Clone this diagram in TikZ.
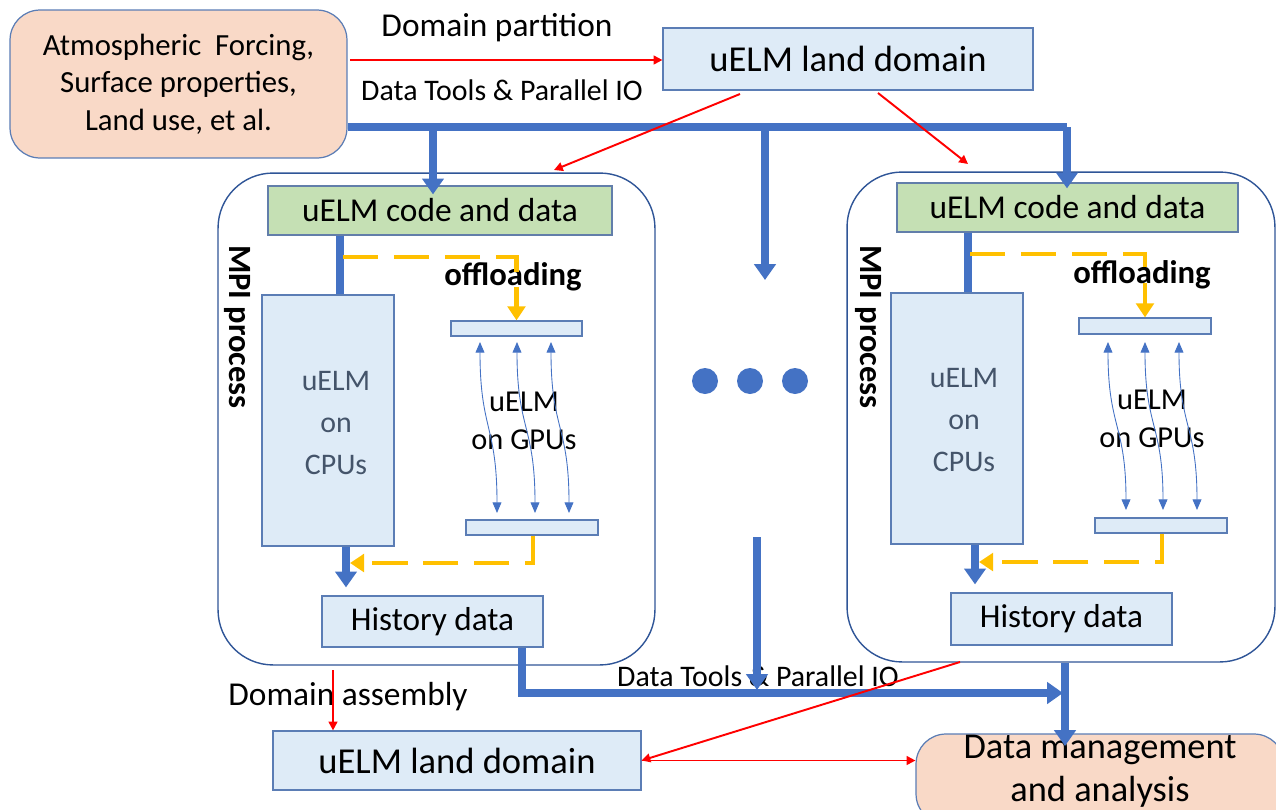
\documentclass[tikz,border=0pt]{standalone}
\usepackage{fontspec}
\setmainfont{Carlito}
\usetikzlibrary{arrows.meta}
\definecolor{tblue}{HTML}{4472C4}
\definecolor{bborder}{HTML}{5B7DB5}
\definecolor{lblue}{HTML}{DEEBF7}
\definecolor{lgreen}{HTML}{C5E0B4}
\definecolor{peach}{HTML}{F9D9C7}
\definecolor{mpiborder}{HTML}{2F5597}
\definecolor{gold}{HTML}{FFC000}
\definecolor{cputext}{HTML}{44546A}
\begin{document}
\begin{tikzpicture}[x=0.02cm,y=-0.02cm,
  lbox/.style={draw=bborder,fill=lblue,line width=0.7pt,inner sep=0pt},
  gbox/.style={draw=bborder!80!gray,fill=lgreen,line width=0.7pt,inner sep=0pt},
  pbox/.style={draw=bborder,fill=peach,line width=0.7pt,rounded corners=0.6cm,inner sep=0pt},
  mpibox/.style={draw=mpiborder,line width=0.8pt,rounded corners=1.1cm,inner sep=0pt},
  thick blue/.style={draw=tblue,line width=4pt},
  thickarrow/.style={draw=tblue,line width=4pt,-{Triangle[width=12pt,length=9pt]}},
  redarrow/.style={draw=red,line width=1.1pt,-{Triangle[width=5pt,length=5pt]}},
  goldarrow/.style={draw=gold,line width=2.3pt,dash pattern=on 20pt off 9pt,-{Triangle[width=10pt,length=8pt]}},
  thinarrow/.style={draw=tblue,line width=0.5pt,{Triangle[width=5pt,length=6pt]}-{Triangle[width=5pt,length=6pt]}},
  dot/.style={circle,fill=tblue,minimum size=0.52cm,inner sep=0pt}
]
\useasboundingbox (0,0) rectangle (1276,809);
\clip (0,0) rectangle (1276,809);

% input and top land domain
\node[pbox,minimum width=6.74cm,minimum height=2.96cm,align=center,
  font=\fontsize{17.5}{21.3}\selectfont] (inp) at (178.5,84)
  {Atmospheric\ \ Forcing,\\Surface properties,\\Land use, et al.};
\node[lbox,minimum width=7.4cm,minimum height=1.24cm,font=\fontsize{20.8}{25}\selectfont]
  (land) at (848,59) {uELM land domain};
\node[font=\fontsize{19}{23}\selectfont] (dp) at (497,28) {Domain partition};
\node[font=\fontsize{17}{20}\selectfont] (dt1) at (502,90) {Data Tools \& Parallel IO};

% MPI boxes
\node[mpibox,minimum width=8.74cm,minimum height=9.84cm] (mpiL) at (436.5,419) {};
\node[mpibox,minimum width=8.56cm,minimum height=9.8cm] (mpiR) at (1061,417) {};

% code boxes
\node[gbox,minimum width=6.88cm,minimum height=0.98cm,font=\fontsize{19}{23}\selectfont]
  (codeL) at (440,210.5) {uELM code and data};
\node[gbox,minimum width=6.82cm,minimum height=0.98cm,font=\fontsize{19}{23}\selectfont]
  (codeR) at (1067.5,207.5) {uELM code and data};

% MPI process labels
\node[rotate=-90,font=\bfseries\fontsize{18.5}{22}\selectfont] (mpL) at (237,327) {MPI process};
\node[rotate=-90,font=\bfseries\fontsize{18.5}{22}\selectfont] (mpR) at (868,327) {MPI process};

% CPU boxes
\node[lbox,minimum width=2.64cm,minimum height=5.02cm] (cpuL) at (328,420.5) {};
\node[lbox,minimum width=2.64cm,minimum height=5.02cm] (cpuR) at (957,418.5) {};
\node[text=cputext,align=center,font=\fontsize{17}{24}\selectfont] (cpuLt) at (336,423) {uELM\\on\\CPUs};
\node[text=cputext,align=center,font=\fontsize{17}{24}\selectfont] (cpuRt) at (964,420) {uELM\\on\\CPUs};

% GPU bars
\node[lbox,minimum width=2.62cm,minimum height=0.3cm] (gtL) at (516.5,328.5) {};
\node[lbox,minimum width=2.64cm,minimum height=0.3cm] (gbL) at (532,527.5) {};
\node[lbox,minimum width=2.64cm,minimum height=0.32cm] (gtR) at (1145,326) {};
\node[lbox,minimum width=2.64cm,minimum height=0.3cm] (gbR) at (1161,525.5) {};
\node[align=center,font=\fontsize{17.3}{21.5}\selectfont] (gpuLt) at (524,421) {uELM\\on GPUs};
\node[align=center,font=\fontsize{17.3}{21.5}\selectfont] (gpuRt) at (1152,419) {uELM\\on GPUs};
\node[font=\bfseries\fontsize{18.6}{22}\selectfont] (offL) at (513,277) {offloading};
\node[font=\bfseries\fontsize{18.6}{22}\selectfont] (offR) at (1142,275) {offloading};

% history boxes
\node[lbox,minimum width=4.42cm,minimum height=1.02cm,font=\fontsize{18.9}{23}\selectfont]
  (histL) at (432.5,621.5) {History data};
\node[lbox,minimum width=4.42cm,minimum height=1.04cm,font=\fontsize{18.9}{23}\selectfont]
  (histR) at (1061.5,619) {History data};

% bottom
\node[lbox,minimum width=7.36cm,minimum height=1.18cm,font=\fontsize{20.8}{25}\selectfont]
  (bland) at (457,760.5) {uELM land domain};
\node[pbox,minimum width=7.36cm,minimum height=1.8cm] (dm) at (1100,779) {};
\node[align=center,font=\fontsize{20.7}{24.4}\selectfont] (dmt) at (1100,771.5) {Data management\\and analysis};
\node[font=\fontsize{19}{23}\selectfont] (da) at (348,697) {Domain assembly};
\node[font=\fontsize{17}{20}\selectfont] (dt2) at (758,676) {Data Tools \& Parallel IO};

% dots
\node[dot] (d1) at (705,381) {};
\node[dot] (d2) at (750,381) {};
\node[dot] (d3) at (795,381) {};

% junction coordinates
\coordinate (m0) at (inp.east |- 0,127);
\coordinate (jL) at (433,127);
\coordinate (jM) at (765,127);
\coordinate (jR) at (1067,127);
\coordinate (mArr) at (765,280);

% thick blue distribution
\draw[thick blue] (m0) -- (jR);
\draw[thickarrow] (jL) -- (codeL.north -| jL) -- ++(0,9);
\draw[thickarrow] (jM) -- (mArr);
\draw[thickarrow] (jR) -- (codeR.north -| jR) -- ++(0,6);

% code to CPU
\draw[thick blue] (codeL.south -| 340,0) -- (cpuL.north -| 340,0);
\draw[thick blue] (codeR.south -| 968,0) -- (cpuR.north -| 968,0);
% CPU to history
\draw[thickarrow] (cpuL.south -| 346,0) -- ([yshift=0.16cm]histL.north -| 346,0);
\draw[thickarrow] (cpuR.south -| 975,0) -- ([yshift=0.16cm]histR.north -| 975,0);

% offloading dashed
\draw[goldarrow] (343,257) -| (gtL.north);
\draw[goldarrow] (970,254) -| (gtR.north);
\draw[goldarrow] (gbL.south -| 533,0) |- (350,563);
\draw[goldarrow] (gbR.south -| 1162,0) |- (979,562);

% GPU thin arrows
\foreach \a/\b in {480/497,517/535,551/569}{
  \draw[thinarrow] (\a,342) .. controls (\a,430) and (\b,425) .. (\b,513);
}
\foreach \a/\b in {1108/1126,1145/1163,1179/1197}{
  \draw[thinarrow] (\a,342) .. controls (\a,428) and (\b,424) .. (\b,510);
}

% red arrows top
\draw[redarrow] (350,60) -- (land.west |- 0,60);
\draw[redarrow] (740,94) -- (554,170);
\draw[redarrow] (878,93) -- (968,164);

% bottom thick blue
\coordinate (hc) at (522,693);
\coordinate (mid0) at (757,537);
\coordinate (rj) at (1065,693);
\draw[thickarrow] (histL.south -| hc) -- (hc) -- (1063,693);
\draw[thickarrow] (mid0) -- (757,690);
\draw[thickarrow] (mpiR.south -| rj) -- (1065,746);

% bottom red
\draw[redarrow] (333,670) -- (bland.north -| 333,0);
\draw[redarrow] (960,662) -- (bland.east);
\draw[redarrow] (bland.east) -- (dm.west |- bland.east);
\end{tikzpicture}
\end{document}
